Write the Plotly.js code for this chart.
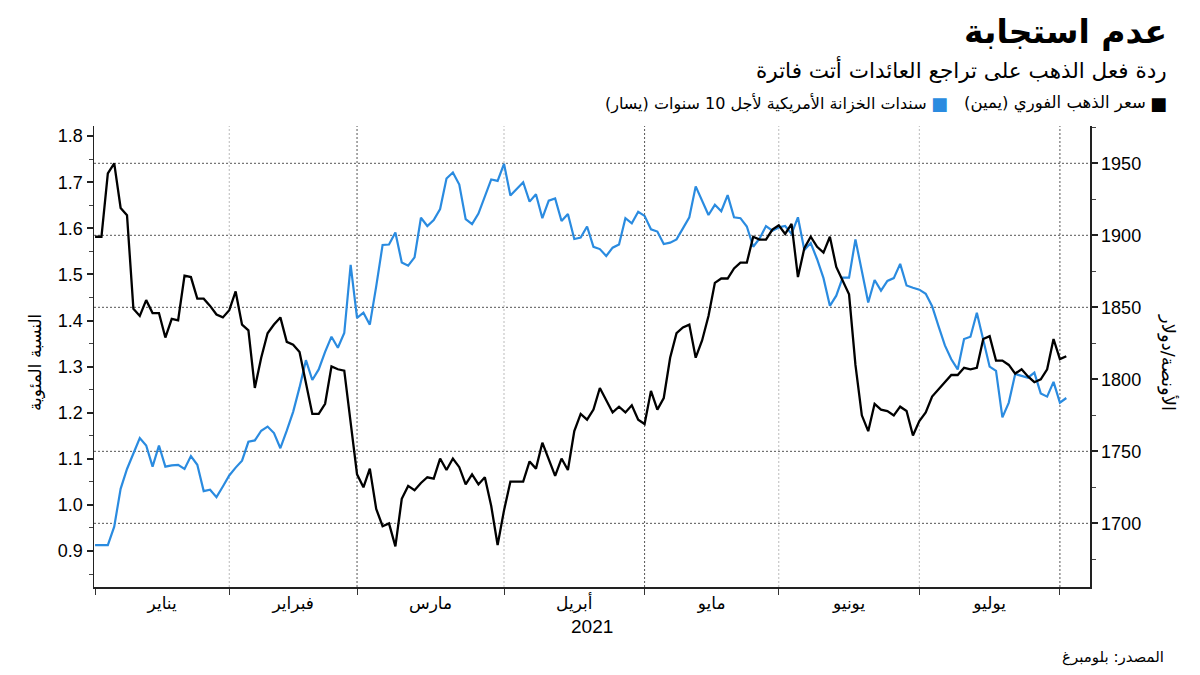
<!DOCTYPE html>
<html>
<head>
<meta charset="utf-8">
<script src="https://cdn.plot.ly/plotly-3.0.1.min.js"></script>
<style>html,body{margin:0;padding:0;background:#fff;}#chart{width:1200px;height:675px;}</style>
</head>
<body>
<div id="chart"></div>
<script>
// ---- data ----
const yields = [
0.913,0.913,0.913,0.953,1.035,1.078,1.111,1.145,1.129,1.083,
1.129,1.083,1.086,1.087,1.078,1.106,1.087,1.030,1.033,1.017,
1.040,1.064,1.081,1.096,1.137,1.140,1.161,1.170,1.156,1.123,
1.161,1.202,1.255,1.314,1.271,1.294,1.332,1.365,1.341,1.373,
1.521,1.406,1.417,1.391,1.474,1.564,1.565,1.591,1.526,1.519,
1.537,1.623,1.605,1.618,1.642,1.708,1.721,1.695,1.620,1.609,
1.632,1.671,1.706,1.703,1.740,1.671,1.685,1.700,1.658,1.674,
1.622,1.660,1.665,1.616,1.631,1.577,1.580,1.604,1.560,1.555,
1.540,1.558,1.565,1.622,1.611,1.636,1.627,1.598,1.593,1.566,
1.569,1.576,1.600,1.624,1.691,1.661,1.629,1.651,1.637,1.672,
1.624,1.622,1.604,1.560,1.578,1.605,1.595,1.602,1.605,1.588,
1.624,1.553,1.568,1.533,1.492,1.432,1.454,1.493,1.493,1.576,
1.508,1.439,1.488,1.465,1.486,1.492,1.523,1.476,1.471,1.467,
1.458,1.431,1.388,1.346,1.316,1.294,1.360,1.365,1.417,1.355,
1.300,1.291,1.190,1.222,1.284,1.280,1.276,1.287,1.242,1.235,
1.267,1.222,1.232];

const gold = [
1899,1899,1943,1950,1919,1914,1849,1844,1855,1846,
1846,1829,1842,1841,1872,1871,1856,1856,1851,1845,
1843,1848,1861,1838,1834,1794,1815,1832,1838,1843,
1826,1824,1819,1798,1776,1776,1783,1809,1807,1806,
1769,1734,1725,1738,1710,1698,1700,1684,1717,1726,
1723,1728,1732,1731,1745,1737,1745,1739,1727,1734,
1727,1732,1712,1685,1709,1729,1729,1729,1743,1738,
1756,1744,1733,1745,1737,1764,1776,1772,1779,1794,
1785,1777,1781,1777,1782,1772,1769,1792,1779,1787,
1815,1832,1836,1838,1815,1827,1844,1867,1870,1870,
1877,1881,1881,1899,1897,1897,1904,1907,1901,1908,
1871,1891,1899,1892,1888,1899,1878,1868,1859,1810,
1775,1764,1783,1779,1778,1775,1781,1778,1761,1771,
1777,1788,1793,1798,1803,1803,1808,1807,1808,1828,
1830,1813,1813,1810,1804,1807,1802,1798,1800,1807,
1828,1814,1816];

// trading days (weekdays) starting 1 Jan 2021
const dates = [];
(function(){
  const d = new Date(Date.UTC(2021,0,1));
  while (dates.length < yields.length) {
    const wd = d.getUTCDay();
    if (wd !== 0 && wd !== 6) dates.push(d.toISOString().slice(0,10));
    d.setUTCDate(d.getUTCDate()+1);
  }
})();

const monthNames = ['يناير','فبراير','مارس','أبريل','مايو','يونيو','يوليو'];
const monthLabelDates = ['2021-01-15 12:00','2021-02-15','2021-03-16 12:00','2021-04-16','2021-05-17 12:00','2021-06-16','2021-07-16'];
const monthStarts = ['2021-01-01','2021-02-01','2021-03-01','2021-04-01','2021-05-03','2021-06-01','2021-07-01','2021-08-02'];
const darkGridDates = ['2021-03-01','2021-05-03','2021-08-02'];
const lightGridDates = ['2021-02-01','2021-04-01','2021-06-01','2021-07-01'];
const goldGridVals = [1700,1750,1850,1900,1950];

const seriesNames = ['سندات الخزانة الأمريكية لأجل 10 سنوات (يسار)','سعر الذهب الفوري (يمين)'];
const titleText = 'عدم استجابة';
const subtitleText = 'ردة فعل الذهب على تراجع العائدات أتت فاترة';
const leftTitle = 'النسبة المئوية';
const rightTitle = 'الأونصة/دولار';
const sourceText = 'المصدر: بلومبرغ';
const yearText = '2021';

// ---- layout helpers (pixel -> paper) ----
const PL=94, PR=1090, PT=126, PB=587;
const px = x => (x-PL)/(PR-PL);
const py = y => (PB-y)/(PB-PT);
const rtl = s => '\u200F' + s + '\u200F';
const AR = 'DejaVu Sans, Noto Sans, sans-serif';
const NUM = 'Liberation Sans, Arial, sans-serif';
const BLUE = '#2a8be0';

const traces = [
  {x: dates, y: yields, type:'scatter', mode:'lines', name: seriesNames[0],
   line:{color:BLUE, width:2.2}, xaxis:'x', yaxis:'y', hoverinfo:'skip'},
  {x: dates, y: gold, type:'scatter', mode:'lines', name: seriesNames[1],
   line:{color:'#000', width:2.3}, xaxis:'x', yaxis:'y2', hoverinfo:'skip'}
];

const shapes = [];
goldGridVals.forEach(v => shapes.push({type:'line', layer:'below', xref:'paper', x0:0, x1:1, yref:'y2', y0:v, y1:v,
  line:{color:'#555', width:1, dash:'2px,2px'}}));
darkGridDates.forEach(d => shapes.push({type:'line', layer:'below', xref:'x', x0:d, x1:d, yref:'paper', y0:0, y1:1,
  line:{color:'#555', width:1, dash:'2px,2px'}}));
lightGridDates.forEach(d => shapes.push({type:'line', layer:'below', xref:'x', x0:d, x1:d, yref:'paper', y0:0, y1:1,
  line:{color:'#bbb', width:1, dash:'2px,2px'}}));

const ann = (text, x, y, opts) => Object.assign({text, xref:'paper', yref:'paper', x:px(x), y:py(y),
  showarrow:false, xanchor:'right', yanchor:'middle'}, opts||{});

const annotations = [
  ann('<b>'+rtl(titleText)+'</b>', 1169, 31, {font:{family:AR, size:33, color:'#000'}}),
  ann(rtl(subtitleText), 1169, 70, {font:{family:AR, size:21.5, color:'#000'}}),
  ann('■', 1169, 103, {font:{family:AR, size:18, color:'#000'}}),
  ann(rtl(seriesNames[1]), 1148, 103, {font:{family:AR, size:16.5, color:'#000'}}),
  ann('■', 950, 103, {font:{family:AR, size:18, color:BLUE}}),
  ann(rtl(seriesNames[0]), 929, 103, {font:{family:AR, size:16, color:'#000'}}),
  ann(rtl(sourceText), 1166, 657, {font:{family:AR, size:15, color:'#000'}}),
  ann(yearText, 592, 626, {xanchor:'center', font:{family:NUM, size:19, color:'#000'}}),
  ann(rtl(leftTitle), 35, 363, {xanchor:'center', textangle:-90, font:{family:AR, size:17, color:'#000'}}),
  ann(rtl(rightTitle), 1168, 362, {xanchor:'center', textangle:90, font:{family:AR, size:18, color:'#000'}})
];

const layout = {
  width:1200, height:675,
  margin:{l:PL, r:1200-PR, t:PT, b:675-PB, pad:0},
  paper_bgcolor:'#fff', plot_bgcolor:'#fff',
  showlegend:false,
  font:{family:AR, color:'#000'},
  xaxis:{
    type:'date', range:['2020-12-31 20:00','2021-08-06 17:00'],
    rangebreaks:[{bounds:['sat','mon']}],
    tickmode:'array', tickvals: monthLabelDates, ticktext: monthNames,
    ticks:'', tickfont:{family:AR, size:17, color:'#000'},
    minor:{tickmode:'array', tickvals: monthStarts, ticks:'outside', ticklen:6, tickwidth:1, tickcolor:'#333', showgrid:false},
    showline:true, linecolor:'#222', linewidth:1.5, showgrid:false, zeroline:false
  },
  yaxis:{
    range:[0.822, 1.822], tick0:0.9, dtick:0.1, tickformat:'.1f',
    ticks:'outside', ticklen:6, tickwidth:2, tickcolor:'#222',
    minor:{dtick:0.05, ticks:'outside', ticklen:4, tickwidth:1, tickcolor:'#444', showgrid:false},
    tickfont:{family:NUM, size:18, color:'#000'},
    showline:true, linecolor:'#222', linewidth:1.5, showgrid:false, zeroline:false
  },
  yaxis2:{
    overlaying:'y', side:'right', anchor:'x',
    range:[1655.8, 1975.9], tick0:1700, dtick:50,
    ticks:'outside', ticklen:6, tickwidth:2, tickcolor:'#222',
    minor:{dtick:25, ticks:'outside', ticklen:4, tickwidth:1, tickcolor:'#444', showgrid:false},
    tickfont:{family:NUM, size:18, color:'#000'},
    showline:true, linecolor:'#222', linewidth:1.5, showgrid:false, zeroline:false
  },
  shapes, annotations
};

Plotly.newPlot('chart', traces, layout, {displayModeBar:false, staticPlot:true});
</script>
</body>
</html>
